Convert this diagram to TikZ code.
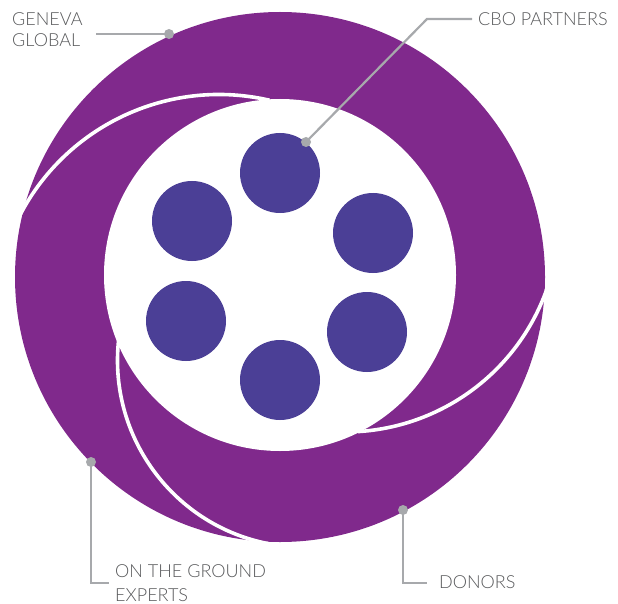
\documentclass[tikz,border=0pt]{standalone}
\usepackage{fontspec}
\setmainfont{Lato}[UprightFont={* Light}]
\definecolor{ringpurple}{RGB}{128,41,140}
\definecolor{partnerblue}{RGB}{75,63,150}
\definecolor{leadergray}{RGB}{167,169,172}
\definecolor{labelgray}{RGB}{88,89,91}
\begin{document}
\begin{tikzpicture}[x=1pt,y=-1pt,
  gap/.style={draw=white,line width=3.6pt},
  partner/.style={circle,fill=partnerblue,minimum size=80pt,inner sep=0pt},
  dot/.style={circle,fill=leadergray,minimum size=10pt,inner sep=0pt},
  leader/.style={draw=leadergray,line width=2.2pt},
  lbl/.style={text=labelgray,inner sep=0pt,anchor=base west,font=\fontsize{18}{21}\selectfont},
  lbltwo/.style={lbl,font=\fontsize{18}{24.5}\selectfont}]
\useasboundingbox (0,0) rectangle (618,604);
% ring
\fill[ringpurple] (280,277) circle[radius=265];
\fill[white] (280,275) circle[radius=176];
% separating gaps between the three swirl pieces
\draw[gap,shift={(219,319)}] (200:224.5) arc[start angle=200,end angle=283,radius=224.5];
\draw[gap,shift={(345,218)}] (15:214) arc[start angle=15,end angle=86.5,radius=214];
\draw[gap,shift={(304.4,360.3)}] (98:186.9) arc[start angle=98,end angle=186.5,radius=186.9];
% CBO partner circles
\node[partner] (p1) at (280,173) {};
\node[partner] (p2) at (373,233) {};
\node[partner] (p3) at (367,332) {};
\node[partner] (p4) at (280,380) {};
\node[partner] (p5) at (186,321) {};
\node[partner] (p6) at (192,221) {};
% labels
\node[lbl] (gg) at (12,26) {\begin{tabular}[t]{@{}l@{}}GENEVA\\GLOBAL\end{tabular}};
\node[lbl] (cbo) at (478,26) {CBO PARTNERS};
\node[lbltwo] (otg) at (115,577) {\begin{tabular}[t]{@{}l@{}}ON THE GROUND\\EXPERTS\end{tabular}};
\node[lbl] (don) at (439,588) {DONORS};
% leaders
\node[dot] (ggdot) at (169,34) {};
\coordinate (ggend) at (96,34);
\draw[leader] (ggend) -- (ggdot.center);
\node[dot] (cbodot) at (306,142) {};
\coordinate (cbobend) at (427,19);
\coordinate (cboend) at (472,19);
\draw[leader] (cbodot.center) -- (cbobend) -- (cboend);
\node[dot] (otgdot) at (91,462) {};
\coordinate (otgbend) at (91,583);
\coordinate (otgend) at (109,583);
\draw[leader] (otgdot.center) -- (otgbend) -- (otgend);
\node[dot] (dondot) at (403,510) {};
\coordinate (donbend) at (403,583);
\coordinate (donend) at (427,583);
\draw[leader] (dondot.center) -- (donbend) -- (donend);
\end{tikzpicture}
\end{document}
